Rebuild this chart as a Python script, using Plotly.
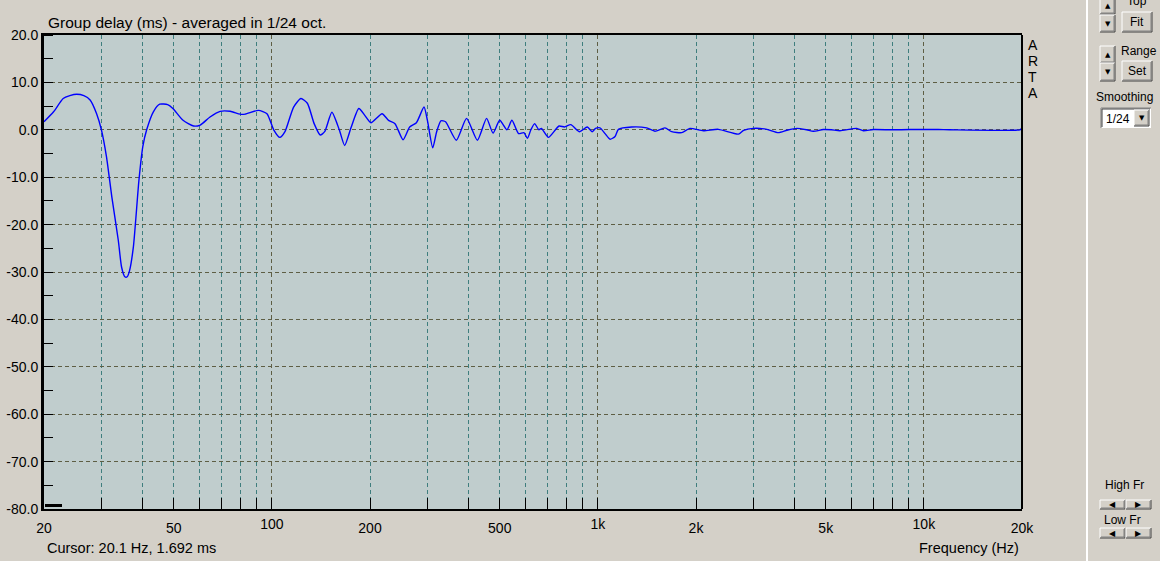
import math
import plotly.graph_objects as go

# ---------------- data ----------------
freq_hz = [20.0, 21.4, 22.9, 24.0, 25.2, 26.5, 27.7, 29.0, 30.0, 31.1, 32.3, 33.8, 34.6, 35.4,
           36.0, 36.6, 37.6, 39.1, 40.2, 41.3, 43.3, 45.3, 47.9, 49.7, 53.4, 57.5, 60.3, 64.6, 69.4,
           74.5, 79.9, 82.8, 90.9, 96.6, 101.3, 105.8, 109.7, 116.6, 122.8, 128.5, 134.8, 140.7,
           145.2, 152.8, 161, 167.2, 175, 184.8, 193, 201.3, 217.8, 228, 238.6, 252.6, 264.7,
           277.6, 292.9, 300, 311.5, 320, 330, 341, 368, 395.6, 427, 455.6, 477, 500, 526, 545,
           571, 593, 608, 623, 640, 659, 671, 705, 760, 790, 826, 877, 928, 960, 984, 1015, 1052,
           1090, 1129, 1156, 1270, 1412, 1497, 1606, 1685, 1808, 1916, 2106, 2342, 2698, 2800,
           2998, 3300, 3577, 3800, 4075, 4372, 4580, 4914, 5200, 5530, 6224, 6522, 6998, 8000,
           9068, 11072, 12000, 19718, 20000]
delay_ms = [1.7, 3.8, 6.6, 7.2, 7.5, 7.2, 6.3, 3.4, 0.0, -5.7, -14.2, -23.3, -29.0, -31.0,
            -31.0, -29.7, -24.7, -10.7, -3.5, 0.0, 3.8, 5.4, 5.3, 4.5, 2.0, 0.8, 1.0, 2.7, 3.9,
            3.9, 3.3, 3.3, 4.1, 3.4, 0.0, -1.6, -0.4, 4.8, 6.6, 5.6, 1.3, -1.1,
            -0.4, 3.7, 0.0, -3.3, 0.5, 4.5, 3.0, 1.5, 3.4, 2.0, 1.3, -2.1, 0.6,
            1.5, 4.8, 2.0, -3.8, -0.5, 1.9, 1.7, -2.2, 2.4, -2.2, 2.4, -0.7, 2.0, 0.0, 2.0,
            -0.8, -0.6, -1.8, 0.0, 1.3, 0.0, 0.3, -1.6, 0.8, 0.6, 1.1, -0.4, 0.6, -0.4, 0.3, 0.4, -0.8,
            -2.0, -1.4, 0.1, 0.6, 0.4, -0.3, 0.4, -0.4, -0.6, 0.3, -0.2, 0.1, -0.9, -0.1,
            0.3, 0.1, -0.6, -0.1, 0.3, 0.0, -0.3, 0.05, 0.0, -0.2, 0.3, -0.2, 0.05, 0.0,
            0.05, 0.05, 0.0, 0.0, 0.3]

minor_x_ticks = [20, 30, 40, 50, 60, 70, 80, 90, 200, 300, 400, 500, 600, 700, 800, 900,
                 2000, 3000, 4000, 5000, 6000, 7000, 8000, 9000, 20000]
minor_x_labels = ["20", "", "", "50", "", "", "", "", "200", "", "", "500", "", "", "", "",
                  "2k", "", "", "5k", "", "", "", "", "20k"]
decade_ticks = [100, 1000, 10000]
decade_labels = ["100", "1k", "10k"]
y_ticks = [20, 10, 0, -10, -20, -30, -40, -50, -60, -70, -80]
y_labels = ["20.0", "10.0", "0.0", "-10.0", "-20.0", "-30.0", "-40.0", "-50.0", "-60.0", "-70.0", "-80.0"]

title_text = "Group delay (ms) - averaged in 1/24 oct."
cursor_text = "Cursor: 20.1 Hz, 1.692 ms"
xaxis_text = "Frequency (Hz)"
brand_letters = ["A", "R", "T", "A"]

# ---------------- styling ----------------
W, H = 1160, 561
L, R, T, B = 44, 1022, 35, 509  # plot area in pixels
BG = "#D4D0C8"
PLOT_BG = "#C0CDCD"
OLIVE = "#5E5E44"
TEAL = "#3F7E7E"
FONT = "Liberation Sans, Arial, sans-serif"


def px(xp):
    return (xp - L) / (R - L)


def py(yp):
    return (B - yp) / (B - T)


xr = [math.log10(20), math.log10(20000)]

fig = go.Figure()
fig.add_trace(go.Scatter(x=freq_hz, y=delay_ms, mode="lines",
                         line=dict(color="#0000FF", width=1.4, shape="spline", smoothing=0.6),
                         hoverinfo="skip", showlegend=False, xaxis="x", yaxis="y"))
fig.add_trace(go.Scatter(x=[], y=[], xaxis="x2", yaxis="y", showlegend=False, hoverinfo="skip"))

shapes = []
annotations = []


def line(x0, y0, x1, y1, color, width=1):
    shapes.append(dict(type="line", xref="paper", yref="paper", x0=px(x0), y0=py(y0),
                       x1=px(x1), y1=py(y1), line=dict(color=color, width=width), layer="above"))


def rect(x0, y0, x1, y1, fill, color=None, width=0):
    shapes.append(dict(type="rect", xref="paper", yref="paper", x0=px(x0), y0=py(y0),
                       x1=px(x1), y1=py(y1), fillcolor=fill,
                       line=dict(color=color or fill, width=width), layer="above"))


def button(x0, y0, x1, y1):
    rect(x0, y0, x1, y1, BG)
    line(x0, y0, x1, y0, "#FFFFFF")
    line(x0, y0, x0, y1, "#FFFFFF")
    line(x0, y1, x1, y1, "#404040")
    line(x1, y0, x1, y1, "#404040")
    line(x0 + 1, y1 - 1, x1 - 1, y1 - 1, "#808080")
    line(x1 - 1, y0 + 1, x1 - 1, y1 - 1, "#808080")


def text(x, y, s, size=12, xanchor="center", yanchor="middle", family=FONT):
    annotations.append(dict(x=px(x), y=py(y), xref="paper", yref="paper", text=s,
                            showarrow=False, xanchor=xanchor, yanchor=yanchor,
                            font=dict(family=family, size=size, color="black")))


# frame right border + cursor marker
line(R, T, R, B, "black", 2)
line(45, 505.5, 62, 505.5, "black", 3)

# right-hand control panel
line(1087, 0, 1087, H, "#FFFFFF", 2)
button(1100, -2, 1115, 14)
button(1100, 15, 1115, 32)
text(1107.5, 6, "▲", 7, family="DejaVu Sans")
text(1107.5, 24, "▼", 7, family="DejaVu Sans")
text(1137, 1, "Top", 12)
button(1122, 12, 1152, 32)
text(1137, 22, "Fit", 12)

button(1100, 46, 1115, 63)
button(1100, 63, 1115, 81)
text(1107.5, 55, "▲", 7, family="DejaVu Sans")
text(1107.5, 72.5, "▼", 7, family="DejaVu Sans")
text(1139, 51, "Range", 12)
button(1122, 61, 1152, 81)
text(1137, 71, "Set", 12)

text(1124, 97, "Smoothing", 12)
rect(1101, 108, 1151, 128, "#FFFFFF")
line(1101, 108, 1151, 108, "#808080")
line(1101, 108, 1101, 128, "#808080")
line(1102, 109, 1150, 109, "#404040")
line(1102, 109, 1102, 127, "#404040")
button(1134, 110, 1149, 126)
text(1141.5, 118, "▼", 7, family="DejaVu Sans")
text(1104, 118.5, "1/24", 12, xanchor="left")

text(1124, 485, "High Fr", 12)
button(1100, 500, 1125, 509)
button(1126, 500, 1151, 509)
text(1112.5, 504.5, "◀", 8, family="DejaVu Sans")
text(1138.5, 504.5, "▶", 8, family="DejaVu Sans")
text(1122, 520, "Low Fr", 12)
button(1100, 528, 1125, 538)
button(1126, 528, 1151, 538)
text(1112.5, 533, "◀", 8, family="DejaVu Sans")
text(1138.5, 533, "▶", 8, family="DejaVu Sans")

# texts around the chart
text(46, 22, title_text, 15.5, xanchor="left")
for i, letter in enumerate(brand_letters):
    text(1032.5, 45 + 16 * i, letter, 14)
text(45, 548, cursor_text, 14.5, xanchor="left")
text(1021, 548, xaxis_text, 14.5, xanchor="right")

tickfont = dict(family=FONT, size=14, color="black")
fig.update_layout(
    width=W, height=H,
    margin=dict(l=L, r=W - R, t=T, b=H - B, autoexpand=False),
    paper_bgcolor=BG, plot_bgcolor=PLOT_BG,
    showlegend=False, hovermode=False,
    xaxis=dict(type="log", range=xr, tickvals=minor_x_ticks, ticktext=minor_x_labels,
               ticks="inside", ticklen=11, tickcolor="black", tickwidth=1,
               ticklabelstandoff=5,
               showgrid=True, gridcolor=TEAL, griddash="4px,3px", gridwidth=1,
               showline=True, linecolor="black", linewidth=2, mirror=True,
               zeroline=False, tickfont=tickfont, fixedrange=True),
    xaxis2=dict(type="log", range=xr, overlaying="x", anchor="y", side="bottom",
                tickvals=decade_ticks, ticktext=decade_labels,
                ticks="inside", ticklen=11, tickcolor="black", tickwidth=1,
                ticklabelstandoff=5,
                showgrid=True, gridcolor=OLIVE, griddash="4px,3px", gridwidth=1,
                showline=False, zeroline=False, tickfont=tickfont, fixedrange=True),
    yaxis=dict(range=[-80, 20], tickvals=y_ticks, ticktext=y_labels, ticks="",
               minor=dict(dtick=5, tick0=0, ticks="inside", ticklen=9, tickcolor="black",
                          showgrid=False),
               showgrid=True, gridcolor=OLIVE, griddash="4px,3px", gridwidth=1,
               showline=True, linecolor="black", linewidth=3, mirror=False,
               zeroline=False, tickfont=tickfont, fixedrange=True),
    shapes=shapes, annotations=annotations,
)

fig.write_html("out.html", config={"displayModeBar": False},
               post_script="document.body.style.margin='0';document.body.style.overflow='hidden';"
                           "document.body.style.background='#D4D0C8';")
